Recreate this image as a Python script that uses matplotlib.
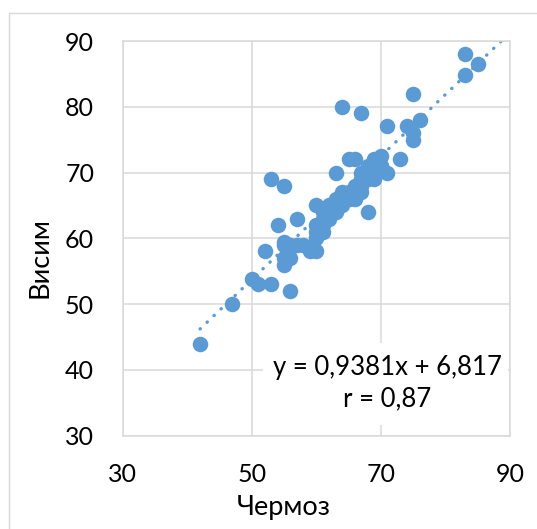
import matplotlib
matplotlib.use("Agg")
import matplotlib.pyplot as plt
from matplotlib.patches import Rectangle
import numpy as np

plt.rcParams['font.family'] = ['Lato', 'DejaVu Sans']

chermoz = [42, 47, 50, 51, 53, 52, 56, 53, 55, 54, 57, 55, 55, 56, 55, 57, 58, 59, 60,
           60, 60, 61, 61, 60, 62, 63, 64, 67, 65, 66, 64, 63, 64, 66, 67, 68, 67, 68,
           69, 70, 69, 71, 73, 71, 74, 75, 75, 76, 75, 83, 83, 85,
           55, 56, 60, 61, 61, 62, 62, 63, 63, 64, 65, 65, 66, 66, 67, 67, 68, 68, 69, 70, 70]
visim = [44, 50, 53.8, 53, 53, 58, 52, 69, 68, 62, 63, 59, 56, 57, 57, 59, 59, 58, 58,
         60, 65, 61, 62, 62, 64, 70, 80, 79, 72, 72, 67, 66, 65, 66, 67, 64, 70, 70,
         72, 72.5, 69, 70, 72, 77, 77, 76, 75, 78, 82, 88, 84.8, 86.5,
         59.5, 59, 61, 63, 64, 63, 65, 64, 65, 66, 66, 67, 67, 68, 68, 69, 69, 71, 70, 71, 71]

slope, intercept = 0.9381, 6.817
eq_text = "y = 0,9381x + 6,817\nr = 0,87"
xticks = [30, 50, 70, 90]
yticks = [30, 40, 50, 60, 70, 80, 90]

W, H = 537, 529
fig = plt.figure(figsize=(W / 100, H / 100), dpi=100)
fig.patches.append(Rectangle((9 / W, -0.01), 1.0, 1 - 13 / H + 0.01, transform=fig.transFigure,
                             fill=False, edgecolor='#D9D9D9', linewidth=1.0))

ax = fig.add_axes([122.6 / W, 1 - 435.6 / H, (510 - 122.6) / W, (435.6 - 41) / H])
ax.set_xlim(30, 90)
ax.set_ylim(30, 90)
ax.set_xticks(xticks)
ax.set_yticks(yticks)
ax.set_axisbelow(True)
ax.grid(True, color='#D9D9D9', linewidth=1.1, zorder=0)
for s in ax.spines.values():
    s.set_color('#D9D9D9')
    s.set_linewidth(1.1)
ax.tick_params(length=0, labelsize=18, colors='black')
ax.tick_params(axis='x', pad=20)
ax.tick_params(axis='y', pad=20.5)

# white label box
ax.add_patch(Rectangle((51.7, 31.6), 89.7 - 51.7, 44.1 - 31.6, facecolor='white',
                       edgecolor='none', zorder=1))

xl = np.array([min(chermoz), (90 - intercept) / slope])
ax.plot(xl, slope * xl + intercept, linestyle=(0, (0.1, 2.8)), color='#5B9BD5',
        linewidth=2.4, dash_capstyle='round', zorder=2)
ax.scatter(chermoz, visim, s=125, color='#5B9BD5', linewidths=0, zorder=3)

ax.text(71.0, 38.0, eq_text, ha='center', va='center', fontsize=18.5,
        linespacing=1.3, zorder=5)

fig.text(284 / W, 1 - 515 / H, "Чермоз", ha='center', va='baseline', fontsize=19.5)
fig.text(40 / W, 1 - 258 / H, "Висим", ha='center', va='center', fontsize=19.5, rotation=90)

fig.savefig("out.png", dpi=100)
